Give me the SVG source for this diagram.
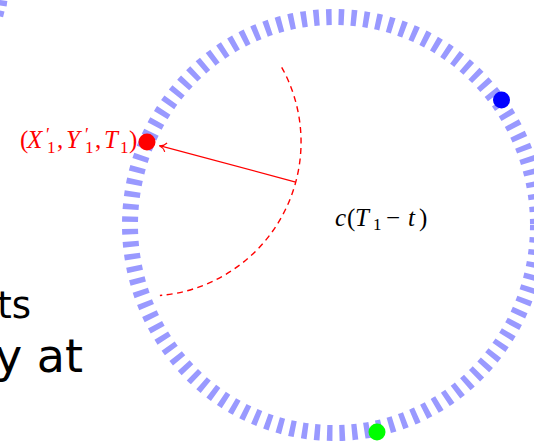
<svg xmlns="http://www.w3.org/2000/svg" width="534" height="444" viewBox="0 0 534 444">
<style>
.ring{fill:none;stroke:#9999ff;stroke-width:16;stroke-dasharray:5.5 7}
.red{fill:#ff0000}
.math{font-family:"Liberation Serif","DejaVu Serif",serif}
.it{font-style:italic}
.slide{font-family:"DejaVu Sans",sans-serif;fill:#000}
</style>
<defs>
<marker id="to" markerUnits="userSpaceOnUse" markerWidth="12" markerHeight="12" viewBox="-7 -5 9 10" refX="0" refY="0" orient="auto">
<path d="M -5.5 -3.8 C -4.2 -1.6 -1.6 -0.3 0 0 C -1.6 0.3 -4.2 1.6 -5.5 3.8" fill="none" stroke="#ff0000" stroke-width="1"/>
</marker>
</defs>
<g id="background-text">
<text class="slide" font-size="37" x="31" y="318" text-anchor="end">ts</text>
<text class="slide" font-size="46" x="83" y="372" text-anchor="end">y at</text>
</g>
<g id="corner-ring" fill="#9999ff">
<rect x="-10" y="0" width="17" height="5.5" transform="rotate(8 0 3)"/>
<rect x="-12" y="10.5" width="16" height="6" transform="rotate(14 0 13)"/>
</g>
<g id="ring">
<ellipse class="ring" cx="334" cy="225" rx="204" ry="208"/>
</g>
<g id="connectors">
<path d="M 281.7 67.3 A 154 154 0 0 1 159.9 295.5" fill="none" stroke="#ff0000" stroke-width="1.4" stroke-dasharray="6 4.5"/>
<path d="M 295.7 182.1 L 159.5 145.7" fill="none" stroke="#ff0000" stroke-width="1.2" marker-end="url(#to)"/>
</g>
<g id="point-red">
<circle class="red" cx="147" cy="142" r="8.5"/>
<text class="math" font-size="25" fill="#ff0000" y="148"><tspan x="20">(</tspan><tspan class="it" x="27">X</tspan><tspan x="46" y="141" font-size="18">′</tspan><tspan x="47" y="153" font-size="17">1</tspan><tspan x="57" y="148">,</tspan><tspan class="it" x="66">Y</tspan><tspan x="85" y="141" font-size="18">′</tspan><tspan x="85" y="153" font-size="17">1</tspan><tspan x="95" y="148">,</tspan><tspan class="it" x="104">T</tspan><tspan x="120" y="153" font-size="17">1</tspan><tspan x="129" y="148">)</tspan></text>
</g>
<g id="point-blue">
<circle cx="501.5" cy="100" r="8.5" fill="#0000ff"/>
</g>
<g id="point-green">
<circle cx="377" cy="432" r="8.5" fill="#00ff00"/>
</g>
<g id="center-label">
<text class="math" font-size="25" fill="#000" y="226"><tspan class="it" x="335">c</tspan><tspan x="347">(</tspan><tspan class="it" x="355">T</tspan><tspan x="373" y="230" font-size="17">1</tspan><tspan x="386" y="226">−</tspan><tspan class="it" x="408">t</tspan><tspan x="419">)</tspan></text>
</g>
</svg>
